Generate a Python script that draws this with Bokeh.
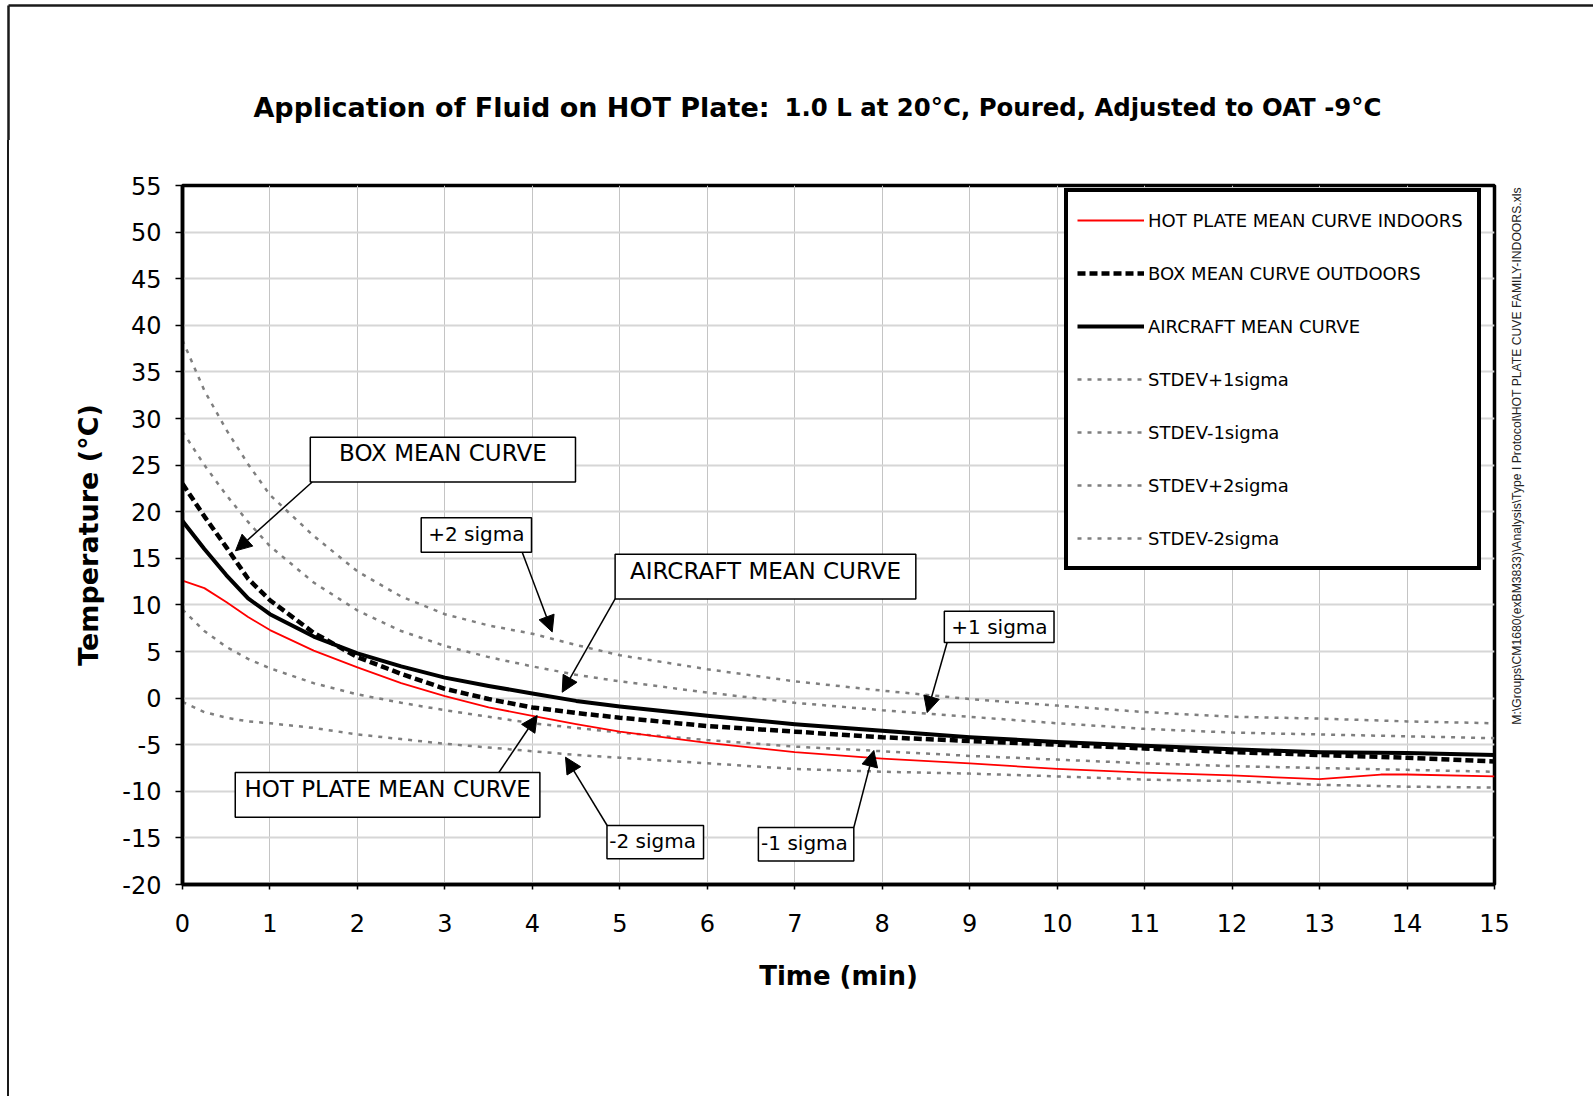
import math

from bokeh.plotting import figure
from bokeh.layouts import column, row
from bokeh.models import (Range1d, FixedTicker, Legend, LegendItem, Arrow, Div,
                          NormalHead, ColumnDataSource)
from bokeh.embed import file_html
from bokeh.resources import INLINE
from bokeh.core.properties import value

# ---- data -------------------------------------------------------------
time_min = [0, 0.25, 0.5, 0.75, 1, 1.5, 2, 2.5, 3, 3.5, 4, 4.5, 5,
            6, 7, 8, 9, 10, 11, 12, 13, 14, 15]

aircraft_mean = [19.0, 16.0, 13.2, 10.7, 9.0, 6.6, 4.8, 3.4, 2.2, 1.3, 0.5, -0.3, -0.9,
                 -1.9, -2.8, -3.5, -4.2, -4.7, -5.1, -5.5, -5.8, -5.9, -6.1]

box_mean_outdoors = [23.0, 19.5, 16.2, 12.8, 10.5, 7.0, 4.4, 2.6, 1.0, -0.1, -1.0, -1.6, -2.1,
                     -3.0, -3.6, -4.2, -4.6, -5.0, -5.4, -5.8, -6.1, -6.4, -6.8]

hot_plate_time = [0, 0.25, 0.5, 0.75, 1, 1.5, 2, 2.5, 3, 3.5, 4, 4.5, 5,
                  6, 7, 8, 9, 10, 11, 12, 13, 13.7, 14, 15]
hot_plate_mean_indoors = [12.6, 11.8, 10.3, 8.7, 7.3, 5.1, 3.3, 1.6, 0.2, -1.0, -1.9, -2.8, -3.6,
                          -4.8, -5.8, -6.5, -7.0, -7.6, -8.0, -8.3, -8.7, -8.2, -8.2, -8.4]

stdev_plus_2sigma = [38.4, 33.0, 28.8, 25.1, 21.8, 17.4, 13.6, 10.9, 9.0, 7.8, 6.9, 5.7, 4.6,
                     3.1, 1.8, 0.8, -0.1, -0.8, -1.5, -2.0, -2.2, -2.5, -2.7]
stdev_plus_1sigma = [28.6, 25.0, 21.8, 18.9, 16.3, 12.4, 9.4, 7.2, 5.6, 4.4, 3.4, 2.5, 1.8,
                     0.6, -0.5, -1.3, -2.0, -2.7, -3.3, -3.7, -3.9, -4.1, -4.3]
stdev_minus_1sigma = [9.5, 7.2, 5.5, 4.2, 3.2, 1.6, 0.4, -0.5, -1.3, -2.0, -2.7, -3.2, -3.7,
                      -4.5, -5.2, -5.7, -6.2, -6.6, -7.0, -7.3, -7.5, -7.7, -7.9]
stdev_minus_2sigma = [-0.4, -1.5, -2.1, -2.5, -2.7, -3.2, -3.9, -4.4, -4.9, -5.3, -5.7, -6.1, -6.4,
                      -7.0, -7.6, -7.9, -8.1, -8.4, -8.75, -8.9, -9.3, -9.5, -9.6]

x_ticks = list(range(0, 16))
x_tick_labels = [str(v) for v in x_ticks]
y_ticks = list(range(-20, 60, 5))
y_tick_labels = [str(v) for v in y_ticks]

series_names = ["HOT PLATE MEAN CURVE INDOORS", "BOX MEAN CURVE OUTDOORS",
                "AIRCRAFT MEAN CURVE", "STDEV+1sigma", "STDEV-1sigma",
                "STDEV+2sigma", "STDEV-2sigma"]

title_main = "Application of Fluid on HOT Plate:"
title_sub = "1.0 L at 20°C, Poured, Adjusted to OAT -9°C"
file_path = ("M:\\Groups\\CM1680(exBM3833)\\Analysis\\Type I Protocol\\"
             "HOT PLATE CUVE FAMILY-INDOORS.xls")

# ---- callout boxes with leader arrows ----------------------------------
callouts = [
    # text, box (left, right, top, bottom), text anchor (x, y), arrow (x0, y0, x1, y1), size
    dict(text="BOX MEAN CURVE", box=(1.461, 4.493, 27.98, 23.19), at=(2.977, 26.30),
         arrow=(1.483, 23.19, 0.606, 15.8), size="23px"),
    dict(text="+2 sigma", box=(2.729, 3.990, 19.35, 15.65), at=(3.36, 17.6),
         arrow=(3.884, 15.65, 4.227, 7.1), size="20px"),
    dict(text="AIRCRAFT MEAN CURVE", box=(4.946, 8.384, 15.44, 10.64), at=(6.665, 13.69),
         arrow=(4.946, 10.64, 4.341, 0.63), size="23px"),
    dict(text="+1 sigma", box=(8.71, 9.964, 9.33, 5.97), at=(9.34, 7.65),
         arrow=(8.742, 5.97, 8.514, -1.55), size="20px"),
    dict(text="HOT PLATE MEAN CURVE", box=(0.603, 4.086, -7.98, -12.79), at=(2.345, -9.70),
         arrow=(3.617, -7.98, 4.055, -1.87), size="23px"),
    dict(text="-2 sigma", box=(4.853, 5.957, -13.67, -17.25), at=(5.374, -15.3),
         arrow=(4.855, -13.67, 4.379, -6.34), size="20px"),
    dict(text="-1 sigma", box=(6.584, 7.675, -13.88, -17.48), at=(7.111, -15.5),
         arrow=(7.675, -13.88, 7.904, -5.62), size="20px"),
]

FONT = "DejaVu Sans"
PAGE_W, PAGE_H = 1593, 1096
HEAD_H = 140          # strip above the chart that carries the title
LEFT_W = 9            # margin left of the chart, ending in the page rule
RIGHT_X = 1510        # page x where the right-hand strip starts
FRAME_L, FRAME_R, FRAME_T, FRAME_B = 182, 1494, 185, 884   # plot area on the page
FRAME_COLOR = "#1a1a1a"


def blank(width, height, x0, x1, y_top, y_bottom, border_top=0, border_bottom=0):
    """Axis-free canvas addressed in page pixels (y grows downwards)."""
    f = figure(width=width, height=height, title=None,
               x_range=Range1d(x0, x1), y_range=Range1d(y_bottom, y_top),
               x_axis_location=None, y_axis_location=None,
               output_backend="svg", toolbar_location=None, min_border=0,
               min_border_top=border_top, min_border_bottom=border_bottom)
    f.outline_line_color = None
    f.grid.visible = False
    f.background_fill_color = "white"
    f.border_fill_color = "white"
    return f


# ---- title strip --------------------------------------------------------
head = blank(PAGE_W, HEAD_H, 0, PAGE_W, 0, HEAD_H)
head.segment(x0=[8, 8], y0=[5, 5], x1=[PAGE_W, 8], y1=[5, HEAD_H],
             line_color=FRAME_COLOR, line_width=2.5)
head.text(x=[769], y=[106.5], text=[title_main], text_align="right",
          text_baseline="alphabetic", text_font=value(FONT), text_font_style="bold",
          text_font_size="27px", text_color="black")
head.text(x=[784], y=[106.5], text=[title_sub], text_align="left",
          text_baseline="alphabetic", text_font=value(FONT), text_font_style="bold",
          text_font_size="24.4px", text_color="black")

# ---- left margin with the page rule ------------------------------------
body_h = PAGE_H - HEAD_H
left_gap = Div(text="", width=LEFT_W - 2, height=body_h, margin=0)
left_rule = Div(text="", width=2, height=body_h, margin=0,
                styles={"background-color": FRAME_COLOR})

# ---- right strip with the workbook path ---------------------------------
right = blank(PAGE_W - RIGHT_X, body_h, RIGHT_X, PAGE_W, FRAME_T, FRAME_B,
              border_top=FRAME_T - HEAD_H, border_bottom=PAGE_H - FRAME_B)
right.text(x=[1516], y=[455.5], text=[file_path], angle=math.pi / 2,
           text_align="center", text_baseline="middle", text_font=value("Liberation Sans"),
           text_font_size="12.2px", text_color="#222222")

# ---- chart ---------------------------------------------------------------
p = figure(width=RIGHT_X - LEFT_W, height=body_h, title=None,
           x_range=Range1d(0, 15), y_range=Range1d(-20, 55),
           output_backend="svg", toolbar_location=None,
           min_border_left=FRAME_L - LEFT_W, min_border_right=RIGHT_X - FRAME_R,
           min_border_top=FRAME_T - HEAD_H, min_border_bottom=PAGE_H - FRAME_B)

p.background_fill_color = "white"
p.border_fill_color = "white"
p.outline_line_color = "black"
p.outline_line_width = 3.5

p.xgrid.grid_line_color = "#c4c4c4"
p.xgrid.grid_line_width = 1
p.ygrid.grid_line_color = "#d6d6d6"
p.ygrid.grid_line_width = 2

p.xaxis.ticker = FixedTicker(ticks=x_ticks)
p.yaxis.ticker = FixedTicker(ticks=y_ticks)
p.xaxis.major_label_overrides = dict(zip(x_ticks, x_tick_labels))
p.yaxis.major_label_overrides = dict(zip(y_ticks, y_tick_labels))
for ax in (p.xaxis[0], p.yaxis[0]):
    ax.axis_line_color = "black"
    ax.axis_line_width = 3.5
    ax.major_tick_line_color = "black"
    ax.major_tick_line_width = 1.5
    ax.major_tick_in = 0
    ax.minor_tick_line_color = None
    ax.major_label_text_font = FONT
    ax.major_label_text_font_size = "24px"
    ax.major_label_text_color = "black"
    ax.axis_label_text_font = FONT
    ax.axis_label_text_font_style = "bold"
    ax.axis_label_text_color = "black"

p.xaxis.major_tick_out = 5
p.xaxis.major_label_standoff = 24
p.xaxis.axis_label = "Time (min)"
p.xaxis.axis_label_text_font_size = "26px"
p.xaxis.axis_label_standoff = 26
p.yaxis.major_tick_out = 7
p.yaxis.major_label_standoff = 14
p.yaxis.axis_label = "Temperature (°C)"
p.yaxis.axis_label_text_font_size = "27px"
p.yaxis.axis_label_standoff = 15

grey = "#7f7f7f"
dots = "4 6"
r_p2 = p.line(time_min, stdev_plus_2sigma, line_color=grey, line_width=2.5, line_dash=dots)
r_p1 = p.line(time_min, stdev_plus_1sigma, line_color=grey, line_width=2.5, line_dash=dots)
r_m1 = p.line(time_min, stdev_minus_1sigma, line_color=grey, line_width=2.5, line_dash=dots)
r_m2 = p.line(time_min, stdev_minus_2sigma, line_color=grey, line_width=2.5, line_dash=dots)
r_hot = p.line(hot_plate_time, hot_plate_mean_indoors, line_color="#ff0000", line_width=1.8,
               line_join="round")
r_box = p.line(time_min, box_mean_outdoors, line_color="black", line_width=4.5, line_dash="8 4")
r_air = p.line(time_min, aircraft_mean, line_color="black", line_width=4, line_join="round")

box_src = ColumnDataSource(dict(
    left=[c["box"][0] for c in callouts], right=[c["box"][1] for c in callouts],
    top=[c["box"][2] for c in callouts], bottom=[c["box"][3] for c in callouts]))
p.quad(left="left", right="right", top="top", bottom="bottom", source=box_src,
       fill_color="white", line_color="black", line_width=1.5)

txt_src = ColumnDataSource(dict(
    x=[c["at"][0] for c in callouts], y=[c["at"][1] for c in callouts],
    text=[c["text"] for c in callouts], size=[c["size"] for c in callouts]))
p.text(x="x", y="y", text="text", source=txt_src, text_font=value(FONT),
       text_font_size="size", text_align="center", text_baseline="middle",
       text_color="black")

arrow_src = ColumnDataSource(dict(
    x0=[c["arrow"][0] for c in callouts], y0=[c["arrow"][1] for c in callouts],
    x1=[c["arrow"][2] for c in callouts], y1=[c["arrow"][3] for c in callouts]))
p.add_layout(Arrow(source=arrow_src, x_start="x0", y_start="y0", x_end="x1", y_end="y1",
                   line_color="black", line_width=1.5,
                   end=NormalHead(size=16, fill_color="black", line_color="black",
                                  line_width=1)))

legend = Legend(items=[LegendItem(label=n, renderers=[r]) for n, r in
                       zip(series_names, [r_hot, r_box, r_air, r_p1, r_m1, r_p2, r_m2])],
                location=(882, 314), margin=0, padding=9, spacing=15,
                label_height=38, glyph_height=38, glyph_width=67, label_standoff=4,
                label_width=320,
                label_text_font=FONT, label_text_font_size="18px", label_text_color="black",
                border_line_color="black", border_line_width=4, border_line_alpha=1,
                background_fill_color="white", background_fill_alpha=1)
p.add_layout(legend)

page = column(head, row(left_gap, left_rule, p, right, spacing=0), spacing=0)

open("out.html", "w").write(file_html(page, INLINE))
